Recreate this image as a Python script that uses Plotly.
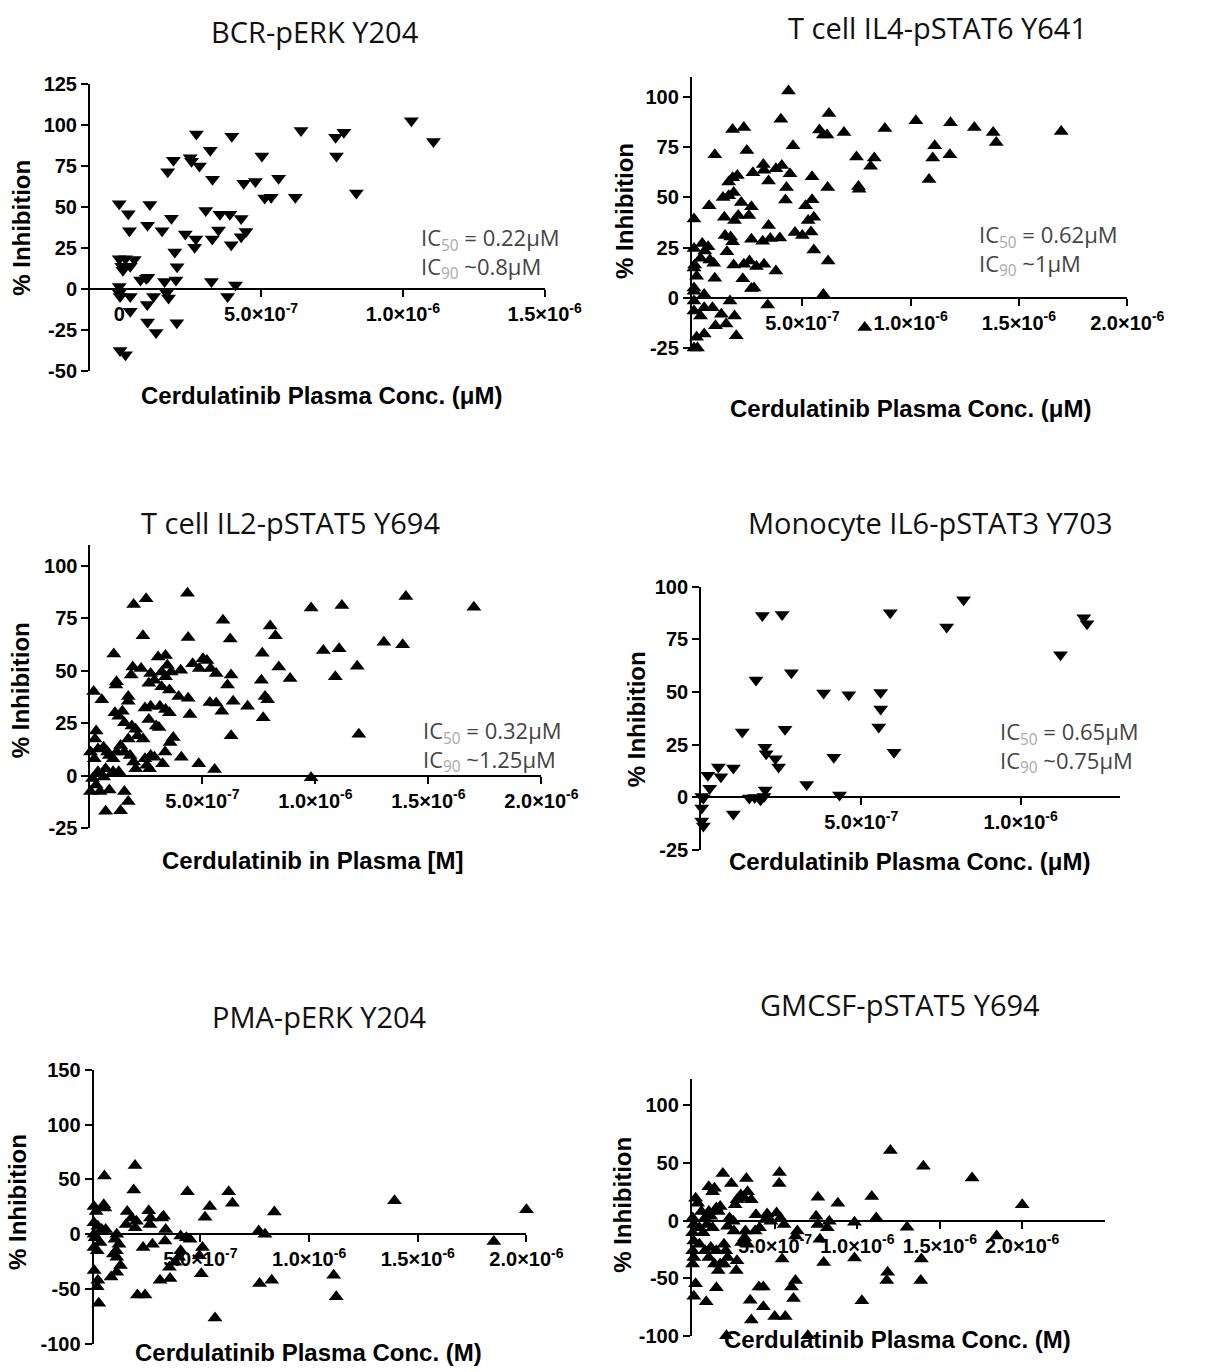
import plotly.graph_objects as go

# ---------------- data (concentration in units of 1e-7 M, % inhibition) ----------------
p1_conc = [0,0.32,0.36,1.08,1.0,0,0.22,0.53,0.09,0.39,0.13,0,0,0.03,0.39,0.39,0.75,0.95,1.01,1.21,0.99,1.0,1.3,
           0.03,0.22,1.51,1.71,1.91,1.84,1.96,2.04,2.0,1.6,1.67,1.74,2.03,2.33,2.5,2.55,2.72,2.83,2.7,2.66,
           3.05,3.21,3.29,3.25,3.28,3.5,3.55,3.9,3.97,3.95,4.1,3.82,4.3,4.3,4.47,4.39,4.8,5.03,5.13,5.36,5.62,
           6.21,6.41,7.63,7.92,7.66,8.36,10.3,11.08]
p1_inhib = [52,46,35.6,51.6,39,18.6,18.6,18,14,14,11.6,1.6,-2.4,-4.4,-4.4,-13.4,5.6,6.6,7.2,-4.4,-9.4,-20,-26.4,
            -37.4,-40,35.6,71.6,78.6,43.2,22.6,13.6,5.6,4.6,-2.4,-5.4,-20.4,33.6,80,78,94.6,75,30.6,25.6,
            48,84.6,67,4.6,30.6,36,45.6,45.6,93.2,27,2.6,-4.4,43,32,35.2,64.6,65.6,81.2,55.6,56,67.6,
            56,96.6,92.6,95.6,81.2,58.6,102.6,90]

p2_conc = [4.36,4.01,1.78,2.3,0.96,2.44,2.72,3.2,3.23,3.44,3.78,4.05,4.43,4.57,4.27,4.22,
           1.6,1.78,2.0,1.34,1.6,1.83,0.7,2.18,2.65,2.53,1.4,1.87,2.04,1.43,1.69,1.52,1.78,
           2.65,3.17,3.44,3.52,3.96,0,0,0.03,0.12,0,0,0,0,0,
           0.38,0.65,0.5,0.3,0.73,0.91,0.96,0.47,1.83,2.3,2.56,2.88,3.23,2.25,2.65,2.77,3.78,
           1.66,1.87,1.95,1.26,1.48,0.99,0.85,0.47,0.3,0.47,0.12,0,0.16,3.4,
           4.66,5.0,5.15,5.27,5.4,5.53,5.45,5.45,5.53,6.19,5.97,5.79,5.97,6.23,6.14,6.17,6.92,
           7.5,7.59,7.62,8.15,8.32,7.88,8.81,10.24,10.85,11.11,11.02,11.84,11.81,12.94,13.81,13.95,16.95]
p2_inhib = [103,88.9,83.9,84.9,71.3,73.4,62.3,66.4,63.6,58.2,64.3,65.9,61.8,75.7,54.9,48.7,
            57.7,59.8,61,50,50.8,52.5,45.9,47.5,45.4,41,40.2,38.5,41,31.1,30.3,23,27.9,
            29.2,28.2,36,29.5,29.8,39.3,24.6,16.4,10.7,4.9,-1.6,-6.6,14.8,3.3,
            27,25.4,23.3,19.7,18.9,17.2,9.8,1.6,16.4,16.7,18.4,15.6,16.7,9.5,4.6,4.9,13.4,
            -1.6,-9,-18.9,-8.2,-13.1,-13.9,-4.9,-4.9,-9,-18,-19.7,-25,-25,-3.6,
            32.5,31.1,45.9,38.5,32.8,40.2,48.9,60.3,23.8,18.4,1.6,83.6,81.1,91.8,81.1,54.9,82.3,
            70.2,55.4,54.1,65.6,69.7,-14.8,84.4,88.2,59,75.7,69.7,87.2,71.3,84.8,82.3,77.4,82.8]

p3_conc = [4.34,2.51,1.96,2.37,4.37,1.08,5.91,6.23,8.0,8.23,7.65,9.81,11.17,14.0,17.01,10.35,11.05,
           13.03,13.86,10.88,11.85,11.92,9.81,8.38,8.88,7.61,7.69,7.89,7.77,7.0,6.27,6.11,6.36,6.27,
           5.33,5.61,5.86,5.03,5.2,4.86,5.36,5.61,4.57,4.04,3.95,4.37,4.45,3.71,3.57,4.07,4.84,5.54,
           3.24,3.35,3.04,3.37,3.45,3.2,3.62,3.37,2.71,2.63,2.88,3.2,3.54,3.12,3.37,3.54,2.71,2.63,
           2.96,3.08,2.46,2.29,1.92,1.85,1.2,1.17,1.72,1.72,1.13,1.46,1.3,1.55,1.88,2.05,1.72,2.13,
           2.38,1.38,1.55,1.8,1.96,2.05,2.46,2.71,2.88,2.66,2.54,1.21,1.05,0.88,0.72,1.05,1.3,
           0.19,0.55,0.02,0.3,0.25,0.05,0.22,0.38,0.63,0.8,0.02,0.14,0.3,0.05,0.47,0.88,0.72,1.38,
           1.55,1.72,0.02,0.38,0.63]
p3_inhib = [87,84.4,81.6,66.7,65.9,58.1,74.1,65.2,71.4,66.7,58.4,80,81.2,85.5,80.3,59.7,60.5,
            63.6,62.5,47.2,52.2,19.8,-0.9,51.9,46.4,45.6,27.7,36.3,37.8,33.1,48,43.3,35.5,19.1,
            35,34.7,30.8,55.8,55,51.1,51.1,48.8,53.4,50.3,37.8,37,29.2,18.3,15.9,8.9,5.8,3,
            5.8,11.3,56.6,57.3,52.7,49.5,49.5,47.2,48.8,44.1,45.6,42.5,40.9,33.1,31.6,30,33.1,26.9,
            23.8,23,32.3,51.1,51.9,48,44.8,43.3,37.8,35.5,30,30.8,28.4,25.3,23.8,22.2,17.5,19.1,
            17.5,14.4,11.3,9.7,6.6,3.4,8.1,9.7,8.9,3.4,5,11.3,8.1,9.7,3.4,1.9,1.9,
            40.2,36.3,35.5,21.4,17.5,11.3,8.1,12.8,13.6,11.3,1.9,-1.3,-4.4,-7.5,-7.5,-6.7,-16.9,-16.6,
            -7.5,-12.2,-23.1,1.9,-0.5]

p4_conc = [1.9,2.52,5.91,8.21,7.68,11.25,11.98,12.08,1.7,2.81,3.82,4.61,5.61,5.61,5.55,6.03,2.61,1.27,
           1.98,2.02,2.31,2.41,4.14,3.29,4.32,0.52,0.6,0.99,0.19,0.25,0,0.05,0,0,0.05,0.99,1.49,1.66,
           1.84,1.99,1.95]
p4_inhib = [86.3,86.8,87.6,93.8,80.9,67.7,85.2,82.4,55.7,59.1,49.5,48.7,49.8,42,33.4,21.5,32.3,31.1,
            23.8,20.7,18.4,14.5,19.1,6.2,1.2,14.5,9.8,14,10.6,4.4,0.5,-0.3,-5,-11.2,-13.5,-7.8,-0.3,0,
            -1.1,3.6,0.5]

p5_conc = [1.99,0.58,1.93,4.4,6.3,6.47,5.43,5.21,8.4,13.93,20.0,18.5,0.1,0.2,0.55,0.6,0.1,0.28,0.46,0.64,
           0.1,0.15,0.38,0.1,0.25,0.11,0.28,0.25,0.32,1.15,1.07,1.25,1.13,1.0,1.15,1.32,1.15,0.89,
           1.63,1.58,1.83,2.05,2.0,2.36,2.1,2.45,2.62,2.7,2.67,2.79,3.22,3.3,3.37,3.4,3.14,3.6,3.57,
           3.83,4.09,4.09,4.0,4.35,4.52,4.95,5.09,5.04,5.67,7.68,7.97,7.72,8.28,11.13,11.25]
p5_inhib = [62.7,53.2,40.3,38.8,38.8,28.4,25.4,15.5,20.3,30.5,22.4,-6.6,25.4,20.9,26.9,23.9,10.5,7.5,4.5,4.5,
            0,-3,-7.5,-12,-15,-32.9,-41.8,-47.8,-62.7,0,-4.5,-9,-15,-17.9,-20.9,-28.4,-34.4,-38.8,
            20.9,9,14.9,12,6,-12,-55.3,-55.3,21.5,14.9,9,-9,14.9,16.4,-6,4.5,-41.8,-40.3,-29.9,
            -25.4,-1.5,-15,-20.9,-3,-4.5,-19.4,-12,-35.9,-76.2,3,0,-44.8,-41.8,-37.3,-56.8]

p6_conc = [12.0,14.0,16.96,20.0,18.45,13.88,13.84,13.01,11.83,11.78,10.87,11.14,10.27,9.82,9.82,8.81,8.29,
           8.17,7.6,7.49,7.6,7.72,7.95,6.35,6.24,6.24,6.0,6.12,5.43,5.62,4.98,4.29,4.02,4.29,3.49,3.56,
           5.27,5.25,5.09,5.32,5.55,4.52,4.41,4.75,3.84,4.06,3.79,3.26,3.33,3.15,3.56,2.92,2.69,2.58,
           3.2,3.15,3.33,2.97,1.83,2.35,0.98,1.21,1.32,1.67,1.55,0.18,0.3,0,0.07,0,0.07,0,0.07,0,
           0.18,0.07,0.82,1.44,0.53,0.75,0.98,1.1,0.41,0.64,0.87,1.21,0.41,0.75,1.1,0.98,1.32,1.55,
           1.67,1.44,1.9,2.01,2.12,1.9,2.69,2.65,2.24,2.47,2.12,2.51,1.44,2.05,6.99]
p6_inhib = [60.9,47.1,37.1,13.7,-13.4,-33.4,-52,-5.7,-44.9,-52,20.9,2.3,-69.7,-1.4,-32.6,15.1,-0.6,
            -6.3,20.3,3.7,-3.4,-16.3,-36.3,-9.1,-13.4,-52,-57.7,-67.7,-33.4,-83.4,-83.4,-74.9,-57.7,-57.7,-69.1,-86.3,
            41.7,32.3,6.6,2.3,-3.4,5.7,0.9,-0.6,5.1,-6.3,-9.1,36.6,25.1,19.4,18,22.3,18,13.7,
            -9.1,-14.9,-20.6,-19.1,40.9,32.3,29.4,25.1,28,12.3,8,19.4,15.1,2.3,-3.4,-10.6,-17.7,-26.3,-32,-37.7,
            -54.9,-65.7,-70.6,-58.3,8,2.3,8,3.7,-6.3,-10.6,-3.4,-6.3,-20.6,-26.3,-23.4,-32,-37.7,-43.4,
            -37.7,-26.3,-20.6,-26.3,-32,-37.7,-34.9,-43.4,2.3,-0.6,-4.9,-9.1,10.9,-100,-100]

titles = ["BCR-pERK Y204", "T cell IL4-pSTAT6 Y641", "T cell IL2-pSTAT5 Y694",
          "Monocyte IL6-pSTAT3 Y703", "PMA-pERK Y204", "GMCSF-pSTAT5 Y694"]
x_titles = ["Cerdulatinib Plasma Conc. (μM)", "Cerdulatinib Plasma Conc. (μM)",
            "Cerdulatinib in Plasma [M]", "Cerdulatinib Plasma Conc. (μM)",
            "Cerdulatinib Plasma Conc. (M)", "Cerdulatinib Plasma Conc. (M)"]
y_title = "% Inhibition"
ic50_text = ["0.22μM", "0.62μM", "0.32μM", "0.65μM", None, None]
ic90_text = ["~0.8μM", "~1μM", "~1.25μM", "~0.75μM", None, None]
x_tick_vals = [[0, 5, 10, 15], [5, 10, 15, 20], [5, 10, 15, 20], [5, 10], [5, 10, 15, 20], [5, 10, 15, 20]]
x_tick_text = {0: "0", 5: "5.0×10<sup>-7</sup>", 10: "1.0×10<sup>-6</sup>",
               15: "1.5×10<sup>-6</sup>", 20: "2.0×10<sup>-6</sup>"}
y_tick_vals = [[-50, -25, 0, 25, 50, 75, 100, 125], [-25, 0, 25, 50, 75, 100], [-25, 0, 25, 50, 75, 100],
               [-25, 0, 25, 50, 75, 100], [-100, -50, 0, 50, 100, 150], [-100, -50, 0, 50, 100]]

series = [(p1_conc, p1_inhib, "triangle-down"), (p2_conc, p2_inhib, "triangle-up"),
          (p3_conc, p3_inhib, "triangle-up"), (p4_conc, p4_inhib, "triangle-down"),
          (p5_conc, p5_inhib, "triangle-up"), (p6_conc, p6_inhib, "triangle-up")]

# ---------------- layout geometry (pixels on the page) ----------------
W, H = 1205, 1372
# x: pixel of conc 0, pixels per 1e-7 M, axis min, axis max (1e-7 M units)
geo_x = [(123, 29.26, -1.03, 15), (716, 22.35, -0.1, 20), (92.2, 23.32, 0.05, 20),
         (724, 32.9, -0.02, 13.12), (94.7, 22.42, 0.08, 20), (714.6, 17.0, -0.05, 25)]
# y: pixel of 0 %, pixels per %, axis min, axis max
geo_y = [(282.7, 1.668, -50, 125), (291.5, 2.04, -25.5, 110), (777.3, 2.133, -25, 110),
         (799.3, 2.143, -25, 100), (1243.3, 1.116, -100, 150), (1229.3, 1.17, -100, 123)]
title_pos = [(325, 21), (967, 17), (300, 520), (959, 520), (330, 1022), (928, 1010)]
xtitle_pos = [(332, 391), (939, 404), (322, 863), (938, 864), (318, 1363), (926, 1350)]
ytitle_pos = [(22, 220), (645, 203), (22, 690), (657, 720), (18, 1210), (642, 1213)]
ic_pos = [(432, 246), (1008, 243), (434, 747), (1030, 748)]

fx = lambda px: px / W
fy = lambda py: 1 - py / H

fig = go.Figure()
annotations = []
ytick_font = dict(family="Liberation Sans, Arial, sans-serif", size=20, color="black")
xtick_font = dict(family="Liberation Sans, Arial, sans-serif", size=20, color="black")
title_font = dict(family="Open Sans, sans-serif", size=29, color="#111111")
lab_font = dict(family="Liberation Sans, Arial, sans-serif", size=24, color="black", weight="bold")
ic_font = dict(family="Open Sans, sans-serif", size=22, color="#444444")
sub = "<sub><span style='color:#aaaaaa'>%s</span></sub>"

for i, (conc, inhib, sym) in enumerate(series):
    n = i + 1
    xs = "" if n == 1 else str(n)
    fig.add_trace(go.Scatter(
        x=[c * 1e-7 for c in conc], y=inhib, mode="markers",
        marker=dict(symbol=sym, size=13, color="black"),
        xaxis="x" + xs, yaxis="y" + xs, cliponaxis=False, showlegend=False,
        hoverinfo="x+y"))
    x0, ppx, xmin, xmax = geo_x[i]
    y0, ppy, ymin, ymax = geo_y[i]
    left, right = x0 + xmin * ppx, x0 + xmax * ppx
    top, bottom = y0 - ymax * ppy, y0 - ymin * ppy
    fig.layout["xaxis" + xs] = dict(
        domain=[fx(left), fx(right)], range=[xmin * 1e-7, xmax * 1e-7],
        anchor="free", position=fy(y0), showline=True, linecolor="black", linewidth=2,
        ticks="outside", ticklen=7, tickwidth=2, tickcolor="black",
        tickvals=[v * 1e-7 for v in x_tick_vals[i]],
        ticktext=["<b>" + x_tick_text[v] + "</b>" for v in x_tick_vals[i]],
        tickfont=xtick_font, showgrid=False, zeroline=False)
    fig.layout["yaxis" + xs] = dict(
        domain=[fy(bottom), fy(top)], range=[ymin, ymax], anchor="x" + xs,
        showline=True, linecolor="black", linewidth=2,
        ticks="outside", ticklen=7, tickwidth=2, tickcolor="black",
        tickvals=y_tick_vals[i], ticktext=["<b>%d</b>" % v for v in y_tick_vals[i]],
        tickfont=ytick_font, showgrid=False, zeroline=False)
    tx, ty = title_pos[i]
    annotations.append(dict(text=titles[i], x=fx(tx), y=fy(ty), xref="paper", yref="paper",
                            showarrow=False, xanchor="center", yanchor="middle", font=title_font))
    ax_, ay_ = xtitle_pos[i]
    annotations.append(dict(text=x_titles[i], x=fx(ax_), y=fy(ay_), xref="paper", yref="paper",
                            showarrow=False, xanchor="center", yanchor="middle", font=lab_font))
    bx, by = ytitle_pos[i]
    annotations.append(dict(text=y_title, x=fx(bx), y=fy(by), xref="paper", yref="paper",
                            showarrow=False, xanchor="center", yanchor="middle", textangle=-90,
                            font=lab_font))
    if ic50_text[i] is not None:
        cx, cy = ic_pos[i]
        ic_txt = "IC" + sub % "50" + " = " + ic50_text[i] + "<br>IC" + sub % "90" + " " + ic90_text[i]
        annotations.append(dict(text=ic_txt, x=fx(cx), y=fy(cy), xref="paper", yref="paper",
                                showarrow=False, xanchor="left", yanchor="middle", align="left",
                                font=ic_font))

fig.update_layout(width=W, height=H, margin=dict(l=0, r=0, t=0, b=0),
                  paper_bgcolor="white", plot_bgcolor="white", annotations=annotations,
                  showlegend=False)
fig.write_html("out.html", config={"displayModeBar": False},
               post_script="document.body.style.margin='0';")
